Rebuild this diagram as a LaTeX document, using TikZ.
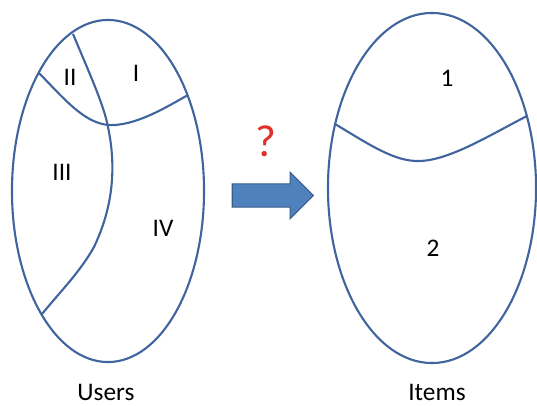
\documentclass[tikz,border=0pt]{standalone}
\usepackage{fontspec}
\setmainfont{Carlito}
\usepackage{tikz}
\usetikzlibrary{shapes.geometric, shapes.arrows}

\definecolor{setblue}{RGB}{64,100,158}
\definecolor{arrowfill}{RGB}{79,129,189}
\definecolor{arrowline}{RGB}{56,93,138}
\definecolor{askred}{RGB}{224,48,40}

\begin{document}
\begin{tikzpicture}[
    x=0.025cm, y=-0.025cm,
    every node/.style={font=\fontsize{18}{21}\selectfont},
    region/.style={draw=setblue, line width=1.5pt, ellipse, inner sep=0pt},
    split/.style={draw=setblue, line width=1.5pt},
    caption/.style={inner sep=0pt, anchor=base},
    bigarrow/.style={single arrow, draw=arrowline, fill=arrowfill, line width=0.8pt, minimum height=2.025cm, inner xsep=0pt, inner ysep=0.275cm, single arrow head extend=0.29cm}
]
\useasboundingbox (0,0) rectangle (537,406);

\node (users) [region, minimum width=4.8cm, minimum height=8.55cm] at (108,191) {};
\node (items) [region, minimum width=5.2cm, minimum height=8.75cm] at (432,188) {};

% user groups
\draw [split] (73,34) .. controls (88,70) and (104,105) .. (108,127)
    .. controls (116,165) and (114,205) .. (94,247)
    .. controls (80,272) and (60,292) .. (42,314);
\draw [split] (39,73) .. controls (68,103) and (88,127) .. (115,125)
    .. controls (140,123) and (165,108) .. (188,95);

% item groups
\draw [split] (335,124) .. controls (370,145) and (395,162) .. (420,161)
    .. controls (450,160) and (490,135) .. (527,116);

\node (g1) at (136,73) {I};
\node (g2) at (70,77) {II};
\node (g3) at (62,172) {III};
\node (g4) at (163,228) {IV};

\node (c1) at (447,78) {1};
\node (c2) at (433,248) {2};

\node (map) [bigarrow] at (267,195.5) {};
\node (ask) [text=askred, font=\fontsize{32}{36}\selectfont] at (266,141) {?};

\node (ulabel) [caption] at (106,400) {Users};
\node (ilabel) [caption] at (437,400) {Items};

\end{tikzpicture}
\end{document}
